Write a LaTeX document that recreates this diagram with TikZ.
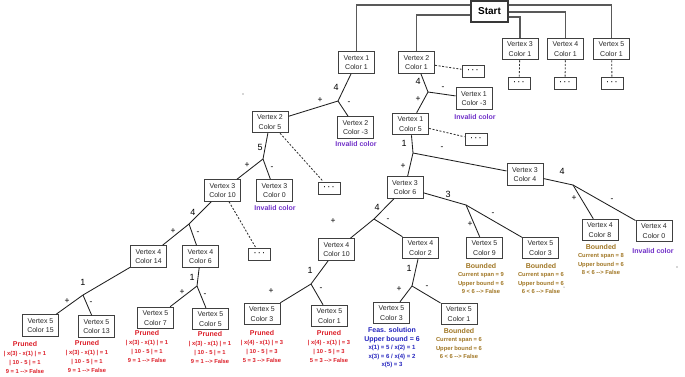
\documentclass[tikz,border=0pt]{standalone}
\usepackage{fontspec}
\setmainfont{Liberation Sans}
\definecolor{invc}{RGB}{112,48,200}
\definecolor{prc}{RGB}{220,30,40}
\definecolor{bdc}{RGB}{160,118,36}
\definecolor{fsc}{RGB}{36,36,190}
\begin{document}
\begin{tikzpicture}[x=1pt,y=-1pt,
  vbox/.style={draw=black!75,line width=1pt,fill=white,text=black!85,font=\fontsize{7}{9.3}\selectfont,align=center,minimum width=36pt,minimum height=21.5pt,inner sep=0pt},
  dotbox/.style={draw=black!75,line width=1pt,fill=white,minimum width=22pt,minimum height=12pt,inner sep=0pt,font=\fontsize{7}{7}\selectfont\bfseries},
  topline/.style={draw=black!65,line width=1.3pt},
  edge/.style={draw=black!88,line width=0.85pt},
  dedge/.style={draw=black!80,line width=0.85pt,dash pattern=on 2pt off 1.6pt},
  num/.style={font=\fontsize{9}{9}\selectfont,inner sep=0pt},
  sgn/.style={font=\fontsize{8.5}{9}\selectfont,inner sep=0pt},
  inv/.style={font=\fontsize{7}{8}\selectfont\bfseries,text=invc,inner sep=0pt},
  pr/.style={font=\fontsize{5.8}{9}\selectfont\bfseries,text=prc,align=center,inner sep=0pt,anchor=north},
  bd/.style={font=\fontsize{5.8}{8.3}\selectfont\bfseries,text=bdc,align=center,inner sep=0pt,anchor=north},
  fs/.style={font=\fontsize{6}{8.5}\selectfont\bfseries,text=fsc,align=center,inner sep=0pt,anchor=north},
]
\useasboundingbox (0,0) rectangle (685,376);

% ---------- nodes ----------
\node[draw=black!78,line width=1.2pt,fill=white,minimum width=37pt,minimum height=21pt,inner sep=0pt,font=\fontsize{10}{12}\selectfont\bfseries] (start) at (489.5,11.5) {Start};

\node[vbox] (v11) at (356.5,62.5) {Vertex 1\\Color 1};
\node[vbox] (v21) at (416.5,62.5) {Vertex 2\\Color 1};
\node[vbox] (v31) at (520,49) {Vertex 3\\Color 1};
\node[vbox] (v41) at (565.5,49) {Vertex 4\\Color 1};
\node[vbox] (v51) at (611.5,49) {Vertex 5\\Color 1};
\node[dotbox] (d31) at (519,83.5) {· · ·};
\node[dotbox] (d41) at (565,83.5) {· · ·};
\node[dotbox] (d51) at (612,83.5) {· · ·};
\node[dotbox] (d21) at (473,71) {· · ·};

\node[vbox] (v1m3) at (474,98.5) {Vertex 1\\Color -3};
\node[vbox] (v15) at (410.5,124) {Vertex 1\\Color 5};
\node[dotbox] (d15) at (476,139.5) {· · ·};
\node[vbox] (v34) at (525,174.5) {Vertex 3\\Color 4};
\node[vbox] (v36) at (405,187.5) {Vertex 3\\Color 6};
\node[vbox] (v48) at (600,230) {Vertex 4\\Color 8};
\node[vbox] (v40) at (654,231) {Vertex 4\\Color 0};
\node[vbox] (v59) at (484.5,248) {Vertex 5\\Color 9};
\node[vbox] (v53r) at (540.5,248) {Vertex 5\\Color 3};
\node[vbox] (v410) at (336.5,249.5) {Vertex 4\\Color 10};
\node[vbox] (v42) at (420.5,248) {Vertex 4\\Color 2};
\node[vbox] (v53a) at (262,314) {Vertex 5\\Color 3};
\node[vbox] (v51a) at (329.5,316) {Vertex 5\\Color 1};
\node[vbox] (v53b) at (391.5,313) {Vertex 5\\Color 3};
\node[vbox] (v51b) at (459,314) {Vertex 5\\Color 1};

\node[vbox] (v25) at (270,122) {Vertex 2\\Color 5};
\node[vbox] (v2m3) at (355.5,127.5) {Vertex 2\\Color -3};
\node[dotbox] (d25) at (329,188) {· · ·};
\node[vbox] (v310) at (222.5,190.5) {Vertex 3\\Color 10};
\node[vbox] (v30) at (274.5,190.5) {Vertex 3\\Color 0};
\node[dotbox] (d310) at (259.5,254) {· · ·};
\node[vbox] (v414) at (148.5,256.5) {Vertex 4\\Color 14};
\node[vbox] (v46) at (200.5,256.5) {Vertex 4\\Color 6};
\node[vbox] (v515) at (40.5,325.5) {Vertex 5\\Color 15};
\node[vbox] (v513) at (96.5,326.5) {Vertex 5\\Color 13};
\node[vbox] (v57) at (155.5,318) {Vertex 5\\Color 7};
\node[vbox] (v55) at (210.5,319) {Vertex 5\\Color 5};

% ---------- junctions ----------
\coordinate (j21) at (428,92);
\coordinate (j15) at (413,153);
\coordinate (j34) at (573,185);
\coordinate (j36r) at (466,205);
\coordinate (j36l) at (374,219);
\coordinate (j410) at (311,284);
\coordinate (j42) at (412,286);
\coordinate (j11) at (338,101);
\coordinate (j25) at (263,159);
\coordinate (j310) at (189,224);
\coordinate (j414) at (83,295);
\coordinate (j46) at (197,286);

% ---------- top connectors ----------
\draw[topline] ([yshift=6.5pt]start.west) -| (v11);
\draw[topline] ([yshift=-3.5pt]start.west) -| (v21);
\draw[topline] ([yshift=-5.5pt]start.east) -| (v31);
\draw[topline] ([yshift=-0.5pt]start.east) -| (v41);
\draw[topline] ([yshift=6.5pt]start.east) -| (v51);

% ---------- dashed ----------
\draw[dedge] (v31) -- (d31);
\draw[dedge] (v41) -- (d41);
\draw[dedge] (v51) -- (d51);
\draw[dedge] (v21) -- (d21);
\draw[dedge] (v15) -- (d15);
\draw[dedge] (v25) -- (d25);
\draw[dedge] (v310) -- (d310);

% ---------- tree edges ----------
\draw[edge] (v21) -- (j21) -- (v15);
\draw[edge] (j21) -- (v1m3);
\draw[edge] (v15) -- (j15) -- (v36);
\draw[edge] (j15) -- (v34);
\draw[edge] (v34) -- (j34) -- (v48);
\draw[edge] (j34) -- (v40);
\draw[edge] (v36) -- (j36r) -- (v59);
\draw[edge] (j36r) -- (v53r);
\draw[edge] (v36) -- (j36l) -- (v410);
\draw[edge] (j36l) -- (v42);
\draw[edge] (v410) -- (j410) -- (v53a);
\draw[edge] (j410) -- (v51a);
\draw[edge] (v42) -- (j42) -- (v53b);
\draw[edge] (j42) -- (v51b);
\draw[edge] (v11) -- (j11) -- (v25);
\draw[edge] (j11) -- (v2m3);
\draw[edge] (v25) -- (j25) -- (v310);
\draw[edge] (j25) -- (v30);
\draw[edge] (v310) -- (j310) -- (v414);
\draw[edge] (j310) -- (v46);
\draw[edge] (v414) -- (j414) -- (v515);
\draw[edge] (j414) -- (v513);
\draw[edge] (v46) -- (j46) -- (v57);
\draw[edge] (j46) -- (v55);

% ---------- edge labels ----------
\node[num] (n21) at (418,81) {4};
\node[sgn] (m21) at (443,88) {-};
\node[sgn] (p21) at (418,99) {+};
\node[num] (n15) at (404,143) {1};
\node[sgn] (m15) at (442,148) {-};
\node[sgn] (p15) at (403,166) {+};
\node[num] (n34) at (562,171) {4};
\node[sgn] (p34) at (574,198) {+};
\node[sgn] (m34) at (612,200) {-};
\node[num] (n36r) at (448,194) {3};
\node[sgn] (p36r) at (470,224) {+};
\node[sgn] (m36r) at (493,214) {-};
\node[num] (n36l) at (377,207) {4};
\node[sgn] (p36l) at (333,221) {+};
\node[sgn] (m36l) at (388,220) {-};
\node[num] (n410) at (310,270) {1};
\node[sgn] (p410) at (271,291) {+};
\node[sgn] (m410) at (321,289) {-};
\node[num] (n42) at (409,268) {1};
\node[sgn] (p42) at (399,289) {+};
\node[sgn] (m42) at (427,287) {-};
\node[num] (n11) at (336,87) {4};
\node[sgn] (p11) at (320,100) {+};
\node[sgn] (m11) at (349,103) {-};
\node[num] (n25) at (260,147) {5};
\node[sgn] (p25) at (247,165) {+};
\node[sgn] (m25) at (272,168) {-};
\node[num] (n310) at (193,212) {4};
\node[sgn] (p310) at (173,231) {+};
\node[sgn] (m310) at (198,233) {-};
\node[num] (n414) at (83,282) {1};
\node[sgn] (p414) at (67,301) {+};
\node[sgn] (m414) at (91,303) {-};
\node[num] (n46) at (192,277) {1};
\node[sgn] (p46) at (182,292) {+};
\node[sgn] (m46) at (205,295) {-};

% ---------- status labels ----------
\node[inv] (i1) at (475,117) {Invalid color};
\node[inv] (i2) at (356,144) {Invalid color};
\node[inv] (i3) at (275,208) {Invalid color};
\node[inv] (i4) at (653,251) {Invalid color};

\node[bd] (b48) at (601,244.4) {{\fontsize{7}{8.3}\selectfont Bounded}\\Current span = 8\\Upper bound = 6\\8 < 6 -{}-{}> False};
\node[bd] (b59) at (481,263.4) {{\fontsize{7}{8.3}\selectfont Bounded}\\Current span = 9\\Upper bound = 6\\9 < 6 -{}-{}> False};
\node[bd] (b53) at (541,263.4) {{\fontsize{7}{8.3}\selectfont Bounded}\\Current span = 6\\Upper bound = 6\\6 < 6 -{}-{}> False};
\node[bd] (b51) at (459,328.4) {{\fontsize{7}{8.3}\selectfont Bounded}\\Current span = 6\\Upper bound = 6\\6 < 6 -{}-{}> False};

\node[pr] (q515) at (25,341.4) {{\fontsize{7}{9}\selectfont Pruned}\\| x(3) - x(1) | = 1\\| 10 - 5 | = 1\\9 = 1 -{}-{}> False};
\node[pr] (q513) at (87,340.4) {{\fontsize{7}{9}\selectfont Pruned}\\| x(3) - x(1) | = 1\\| 10 - 5 | = 1\\9 = 1 -{}-{}> False};
\node[pr] (q57) at (147,330.4) {{\fontsize{7}{9}\selectfont Pruned}\\| x(3) - x(1) | = 1\\| 10 - 5 | = 1\\9 = 1 -{}-{}> False};
\node[pr] (q55) at (210,331.4) {{\fontsize{7}{9}\selectfont Pruned}\\| x(3) - x(1) | = 1\\| 10 - 5 | = 1\\9 = 1 -{}-{}> False};
\node[pr] (q53) at (262,330.4) {{\fontsize{7}{9}\selectfont Pruned}\\| x(4) - x(1) | = 3\\| 10 - 5 | = 3\\5 = 3 -{}-{}> False};
\node[pr] (q51) at (329,330.4) {{\fontsize{7}{9}\selectfont Pruned}\\| x(4) - x(1) | = 3\\| 10 - 5 | = 3\\5 = 3 -{}-{}> False};

\node[fs] (fsol) at (392,327.4) {{\fontsize{7}{8.5}\selectfont Feas. solution}\\{\fontsize{7}{8.5}\selectfont Upper bound = 6}\\x(1) = 5 / x(2) = 1\\x(3) = 6 / x(4) = 2\\x(5) = 3};

% ---------- stray dots ----------
\fill[black!70] (243,94) circle (0.6);
\fill[black!70] (677,267) circle (0.6);
\fill[black!70] (564,287) circle (0.5);
\end{tikzpicture}
\end{document}
